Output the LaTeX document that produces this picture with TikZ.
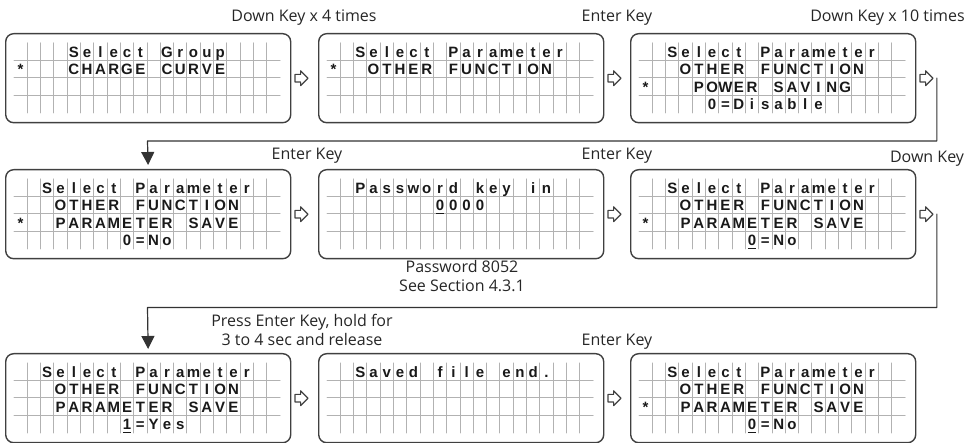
\documentclass[tikz,border=0pt]{standalone}
\usepackage{fontspec}
\setmainfont{Open Sans}
\newfontfamily\lcdfont{Liberation Sans}
\usetikzlibrary{arrows.meta,positioning,shapes.arrows}

\tikzset{
	screen/.style={draw=black!75, line width=0.7pt, rounded corners=4pt, inner sep=0pt,
		minimum width=142.5pt, minimum height=44.5pt, anchor=north west},
	gridline/.style={draw=black!30, line width=0.5pt},
	lcdchar/.style={font=\lcdfont\bfseries\fontsize{7.5}{8}\selectfont, text=black!90,
		inner sep=0pt, text height=5.4pt, text depth=0pt},
	nextarrow/.style={single arrow, draw=black!75, line width=0.6pt, inner sep=0pt,
		minimum height=6.5pt, single arrow head extend=1.8pt, text height=1.6pt, text depth=1.6pt},
	keylabel/.style={font=\fontsize{8}{9.5}\selectfont, text=black!85, inner sep=0pt, anchor=base},
	flow/.style={draw=black!80, line width=0.6pt, -{Triangle[width=6.5pt,length=6.5pt]}, shorten >=2pt}
}

% grid of the 20 x 4 display
\newcommand{\lcdgrid}{%
	\foreach \gc in {1,...,19}
		\draw[gridline] ({9+13.3*\gc},-10) -- ({9+13.3*\gc},-80);
	\foreach \gr in {1,2,3}
		\draw[gridline] (9,{-10-17.5*\gr}) -- (275,{-10-17.5*\gr});
}
% one line of characters: row, first column, characters
\newcommand{\lcdtext}[3]{%
	\foreach \ch [count=\gc from #2] in {#3}
		\node[lcdchar] (r#1c\gc) at ({9+13.3*(\gc+0.5)},{-10-17.5*(#1+0.5)}) {\ch};
}

\begin{document}
\begin{tikzpicture}[
						x=0.5pt, y=0.5pt,
						line cap=round,
						line join=round
						]
						
						\useasboundingbox (0,0) rectangle (977,443);
						
						% Top row
						\begin{scope}[shift={(5,410)}, name prefix=s1-]
							\node[screen] (box) at (0,0) {};
							\lcdgrid
							\lcdtext{0}{4}{S,e,l,e,c,t,,G,r,o,u,p}
							\lcdtext{1}{0}{*}
							\lcdtext{1}{4}{C,H,A,R,G,E,,C,U,R,V,E}
						\end{scope}
						
						\begin{scope}[shift={(318,410)}, name prefix=s2-]
							\node[screen] (box) at (0,0) {};
							\lcdgrid
							\lcdtext{0}{2}{S,e,l,e,c,t,,P,a,r,a,m,e,t,e,r}
							\lcdtext{1}{0}{*}
							\lcdtext{1}{3}{O,T,H,E,R,,F,U,N,C,T,I,O,N}
						\end{scope}
						
						\begin{scope}[shift={(630,410)}, name prefix=s3-]
							\node[screen] (box) at (0,0) {};
							\lcdgrid
							\lcdtext{0}{2}{S,e,l,e,c,t,,P,a,r,a,m,e,t,e,r}
							\lcdtext{1}{3}{O,T,H,E,R,,F,U,N,C,T,I,O,N}
							\lcdtext{2}{0}{*}
							\lcdtext{2}{4}{P,O,W,E,R,,S,A,V,I,N,G}
							\lcdtext{3}{5}{0,=,D,i,s,a,b,l,e}
						\end{scope}
						
						% Middle row
						\begin{scope}[shift={(5,274)}, name prefix=s4-]
							\node[screen] (box) at (0,0) {};
							\lcdgrid
							\lcdtext{0}{2}{S,e,l,e,c,t,,P,a,r,a,m,e,t,e,r}
							\lcdtext{1}{3}{O,T,H,E,R,,F,U,N,C,T,I,O,N}
							\lcdtext{2}{0}{*}
							\lcdtext{2}{3}{P,A,R,A,M,E,T,E,R,,S,A,V,E}
							\lcdtext{3}{8}{0,=,N,o}
						\end{scope}
						
						\begin{scope}[shift={(318,274)}, name prefix=s5-]
							\node[screen] (box) at (0,0) {};
							\lcdgrid
							\lcdtext{0}{2}{P,a,s,s,w,o,r,d,,k,e,y,,i,n}
							\lcdtext{1}{8}{\underline{0},0,0,0}
						\end{scope}
						
						\begin{scope}[shift={(630,274)}, name prefix=s6-]
							\node[screen] (box) at (0,0) {};
							\lcdgrid
							\lcdtext{0}{2}{S,e,l,e,c,t,,P,a,r,a,m,e,t,e,r}
							\lcdtext{1}{3}{O,T,H,E,R,,F,U,N,C,T,I,O,N}
							\lcdtext{2}{0}{*}
							\lcdtext{2}{3}{P,A,R,A,M,E,T,E,R,,S,A,V,E}
							\lcdtext{3}{8}{\underline{0},=,N,o}
						\end{scope}
						
						% Bottom row
						\begin{scope}[shift={(5,90)}, name prefix=s7-]
							\node[screen] (box) at (0,0) {};
							\lcdgrid
							\lcdtext{0}{2}{S,e,l,e,c,t,,P,a,r,a,m,e,t,e,r}
							\lcdtext{1}{3}{O,T,H,E,R,,F,U,N,C,T,I,O,N}
							\lcdtext{2}{3}{P,A,R,A,M,E,T,E,R,,S,A,V,E}
							\lcdtext{3}{8}{\underline{1},=,Y,e,s}
						\end{scope}
						
						\begin{scope}[shift={(318,90)}, name prefix=s8-]
							\node[screen] (box) at (0,0) {};
							\lcdgrid
							\lcdtext{0}{2}{S,a,v,e,d,,f,i,l,e,,e,n,d,.}
						\end{scope}
						
						\begin{scope}[shift={(630,90)}, name prefix=s9-]
							\node[screen] (box) at (0,0) {};
							\lcdgrid
							\lcdtext{0}{2}{S,e,l,e,c,t,,P,a,r,a,m,e,t,e,r}
							\lcdtext{1}{3}{O,T,H,E,R,,F,U,N,C,T,I,O,N}
							\lcdtext{2}{0}{*}
							\lcdtext{2}{3}{P,A,R,A,M,E,T,E,R,,S,A,V,E}
							\lcdtext{3}{8}{\underline{0},=,N,o}
						\end{scope}
						
						% Arrows between the screens
						\node[nextarrow, right=1.5pt of s1-box] (arr1) {};
						\node[nextarrow, right=1.5pt of s2-box] (arr2) {};
						\node[nextarrow, right=1.5pt of s3-box] (arr3) {};
						\node[nextarrow, right=1.5pt of s4-box] (arr4) {};
						\node[nextarrow, right=1.5pt of s5-box] (arr5) {};
						\node[nextarrow, right=1.5pt of s6-box] (arr6) {};
						\node[nextarrow, right=1.5pt of s7-box] (arr7) {};
						\node[nextarrow, right=1.5pt of s8-box] (arr8) {};
						
						% Return lines to the next row
						\coordinate (bend1) at (147.5,302);
						\coordinate (bend2) at (147.5,135.5);
						\draw[flow] ([xshift=1.5pt]arr3.east) |- (bend1) -- (s4-box.north);
						\draw[flow] ([xshift=1.5pt]arr6.east) |- (bend2) -- (s7-box.north);
						
						% Key labels
						\node[keylabel] (key1) at (304,421) {Down Key x 4 times};
						\node[keylabel] (key2) at (617,421) {Enter Key};
						\node[keylabel, anchor=base east] (key3) at (965,421) {Down Key x 10 times};
						\node[keylabel] (key4) at (307,283.5) {Enter Key};
						\node[keylabel] (key5) at (617,283.5) {Enter Key};
						\node[keylabel] (key6) at (927,280) {Down Key};
						\node[keylabel, align=center] (pass) at (462,151) {Password 8052\\See Section 4.3.1};
						\node[keylabel, align=center] (key7) at (302,97) {Press Enter Key, hold for\\3 to 4 sec and release};
						\node[keylabel] (key8) at (617,97) {Enter Key};
						
					\end{tikzpicture}
\end{document}
